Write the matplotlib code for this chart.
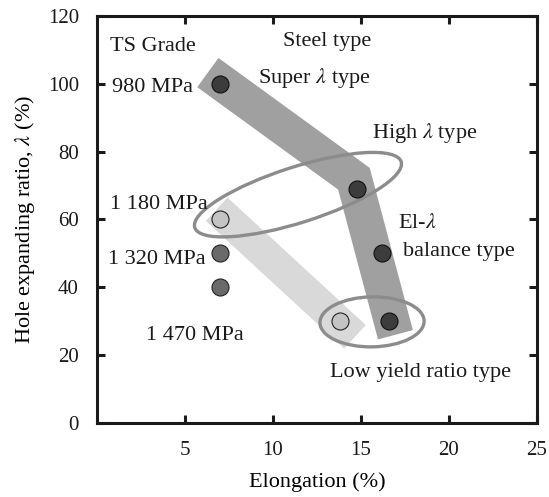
import matplotlib
matplotlib.use("Agg")
import matplotlib.pyplot as plt
import matplotlib.transforms as mtransforms
from matplotlib.patches import Ellipse
import numpy as np

plt.rcParams['font.family'] = ['Liberation Serif', 'DejaVu Serif']
plt.rcParams['mathtext.fontset'] = 'stix'

# data points (elongation %, hole expanding ratio %)
dark_x = [7.0, 14.8, 16.2, 16.6]
dark_y = [100, 69, 50, 30]
mid_x = [7.0, 7.0]
mid_y = [50, 40]
light_x = [7.0, 13.8]
light_y = [60, 30]

# trend bands (centre lines)
band_dark_x = [6.3, 14.6, 16.96]
band_dark_y = [103.3, 72.0, 26.0]
band_light_x = [6.8, 14.66]
band_light_y = [63.0, 25.4]

# ellipses: centre (data), width/height (pt), angle (deg)
ellipses = [
    ((11.42, 67.3), 156, 40, 17.7),
    ((15.63, 29.8), 75, 36, 1.0),
]

labels = [
    (0.74, 111.0, "TS Grade"),
    (10.57, 112.4, "Steel type"),
    (0.85, 98.8, "980 MPa"),
    (9.15, 101.8, r"Super $\lambda$ type"),
    (15.6, 85.5, r"High $\lambda$ type"),
    (0.74, 64.3, "1 180 MPa"),
    (0.62, 48.1, "1 320 MPa"),
    (2.8, 25.7, "1 470 MPa"),
    (17.1, 58.7, r"El-$\lambda$"),
    (17.4, 50.4, "balance type"),
    (13.24, 15.0, "Low yield ratio type"),
]

fig = plt.figure(figsize=(5.49, 4.97), dpi=100)
ax = fig.add_axes([0.1767, 0.149, 0.8013, 0.819])
ax.set_xlim(0, 25)
ax.set_ylim(0, 120)

ax.plot(band_dark_x, band_dark_y, color="#a0a0a0", lw=26,
        solid_joinstyle="miter", solid_capstyle="butt", zorder=1)
ax.plot(band_light_x, band_light_y, color="#d9d9d9", lw=23,
        solid_joinstyle="miter", solid_capstyle="butt", zorder=0.9)

for (cx, cy), w, h, ang in ellipses:
    tr = mtransforms.Affine2D().scale(fig.dpi / 72) + \
        mtransforms.ScaledTranslation(cx, cy, ax.transData)
    e = Ellipse((0, 0), w, h, angle=ang, transform=tr, fill=False,
                edgecolor="#8c8c8c", lw=2.4, zorder=3)
    ax.add_patch(e)

ax.scatter(dark_x, dark_y, s=150, c="#3c3c3c", edgecolors="#111111", linewidths=0.8, zorder=4)
ax.scatter(mid_x, mid_y, s=150, c="#6a6a6a", edgecolors="#222222", linewidths=0.8, zorder=4)
ax.scatter(light_x, light_y, s=150, c="#c4c4c4", edgecolors="#222222", linewidths=0.8, zorder=4)

for x, y, t in labels:
    ax.text(x, y, t, fontsize=16, ha="left", va="center", color="#1a1a1a", zorder=5)

ax.set_xticks([5, 10, 15, 20, 25])
ax.set_yticks(np.arange(0, 121, 20))
ax.tick_params(direction="in", length=6, width=2.2, labelsize=15,
               top=True, right=True, colors="#1a1a1a")
ax.tick_params(axis="x", pad=13)
ax.tick_params(axis="y", pad=13)
for s in ax.spines.values():
    s.set_linewidth(2.2)
    s.set_color("#1a1a1a")

ax.set_xlabel("Elongation (%)", fontsize=16, labelpad=9)
ax.set_ylabel(r"Hole expanding ratio, $\lambda$ (%)", fontsize=16, labelpad=8)

fig.savefig("out.png", dpi=100)
